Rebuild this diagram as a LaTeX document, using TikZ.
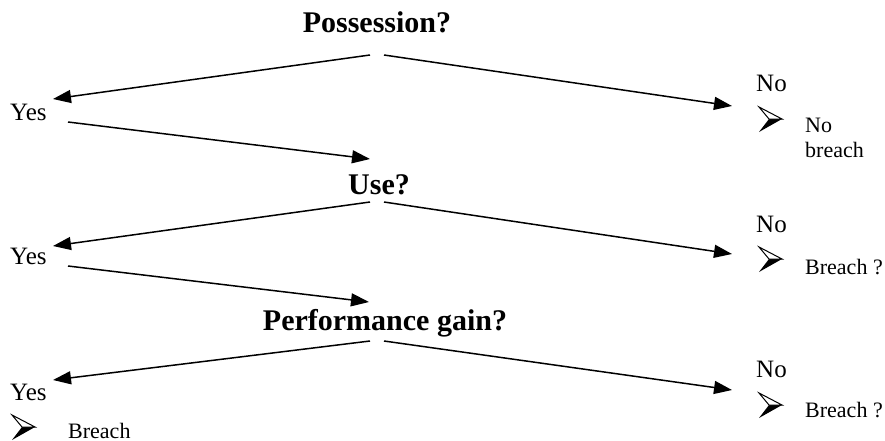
\documentclass[tikz,border=0pt]{standalone}
\usepackage{fontspec}
\setmainfont{Liberation Serif}
\usetikzlibrary{arrows.meta}
\begin{document}
\begin{tikzpicture}[x=1pt,y=-1pt,
  conn/.style={line width=1.5pt,-{Triangle[length=18pt,width=13pt]}},
  question/.style={anchor=base,inner sep=0pt,font=\fontsize{30}{34}\selectfont\bfseries},
  answer/.style={anchor=base west,inner sep=0pt,font=\fontsize{25}{29}\selectfont},
  outcome/.style={anchor=base west,inner sep=0pt,font=\fontsize{22}{26}\selectfont},
  pics/bullet/.style={code={
    \fill[black] (0,0) -- (-13,0) -- (-23,13) -- cycle;
    \draw[line width=1pt,fill=white,line join=miter] (0,0) -- (-23,-12) -- (-13,0) -- cycle;
  }}]
\useasboundingbox (0,0) rectangle (885,441);

% questions
\node[question] (q1) at (377,33) {Possession?};
\node[question] (q2) at (379,194) {Use?};
\node[question] (q3) at (385,330) {Performance gain?};

% yes / no answers
\node[answer] (y1) at (10,121) {Yes};
\node[answer] (y2) at (10,264) {Yes};
\node[answer] (y3) at (10,400) {Yes};
\node[answer] (n1) at (756,92) {No};
\node[answer] (n2) at (756,232) {No};
\node[answer] (n3) at (756,377) {No};

% outcomes with arrowhead bullets
\pic at (782,119) {bullet};
\node[outcome] (o1a) at (805,132) {No};
\node[outcome] (o1b) at (805,157) {breach};
\pic at (782,259) {bullet};
\node[outcome] (o2) at (805,274) {Breach ?};
\pic at (782,405) {bullet};
\node[outcome] (o3) at (805,417) {Breach ?};
\pic at (35,427) {bullet};
\node[outcome] (o4) at (68,438) {Breach};

% branch end points
\coordinate (q1l) at (370,55);
\coordinate (q1r) at (384,55);
\coordinate (q2l) at (370,202);
\coordinate (q2r) at (384,202);
\coordinate (q3l) at (370,341);
\coordinate (q3r) at (384,341);
\coordinate (y1t) at (53,99);
\coordinate (y2t) at (53,246);
\coordinate (y3t) at (53,380);
\coordinate (n1t) at (732,106);
\coordinate (n2t) at (732,254);
\coordinate (n3t) at (732,390);
\coordinate (y1s) at (68,122);
\coordinate (y2s) at (68,266);
\coordinate (q2t) at (370,159);
\coordinate (q3t) at (369,302);

% connectors
\draw[conn] (q1l) -- (y1t);
\draw[conn] (q1r) -- (n1t);
\draw[conn] (y1s) -- (q2t);
\draw[conn] (q2l) -- (y2t);
\draw[conn] (q2r) -- (n2t);
\draw[conn] (y2s) -- (q3t);
\draw[conn] (q3l) -- (y3t);
\draw[conn] (q3r) -- (n3t);
\end{tikzpicture}
\end{document}
